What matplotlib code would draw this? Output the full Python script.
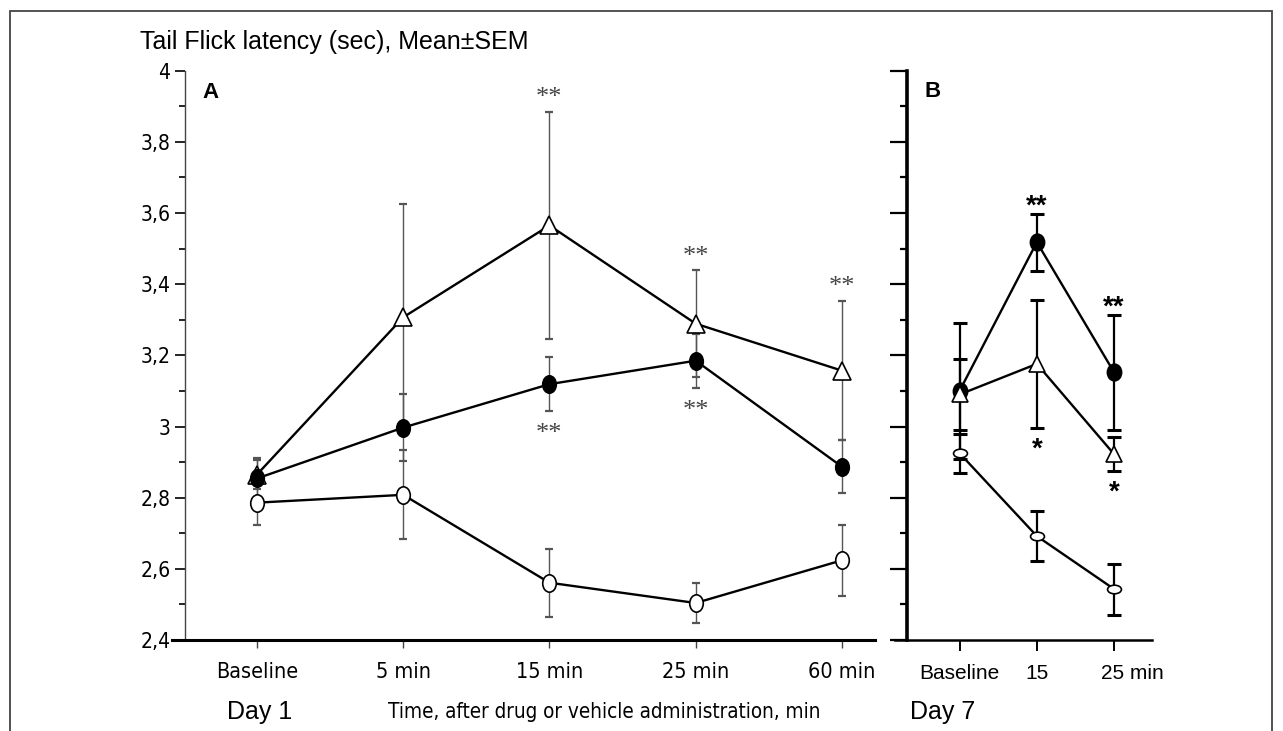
import matplotlib
matplotlib.use('Agg')
import matplotlib.pyplot as plt
import matplotlib.transforms as mtransforms
from matplotlib.path import Path
from matplotlib.patches import Rectangle
from matplotlib.ticker import MultipleLocator

# Panel A: day 1
times_a = ['Baseline', '5 min', '15 min', '25 min', '60 min']
tri_a = [2.865, 3.307, 3.565, 3.289, 3.157]
tri_a_sem = [0.04, 0.317, 0.32, 0.15, 0.195]
fill_a = [2.854, 2.997, 3.119, 3.185, 2.887]
fill_a_sem = [0.057, 0.095, 0.075, 0.076, 0.075]
open_a = [2.786, 2.808, 2.561, 2.504, 2.624]
open_a_sem = [0.064, 0.125, 0.095, 0.057, 0.1]

# Panel B: day 7
times_b = ['Baseline', '15', '25 min']
tri_b = [3.09, 3.176, 2.922]
tri_b_sem = [0.1, 0.18, 0.048]
fill_b = [3.10, 3.518, 3.152]
fill_b_sem = [0.19, 0.08, 0.162]
open_b = [2.925, 2.692, 2.543]
open_b_sem = [0.055, 0.07, 0.072]

# significance marks: (category index, series, above/below, text)
stars_a = [(2, 'tri', 'above', '**'), (3, 'tri', 'above', '**'), (4, 'tri', 'above', '**'),
           (2, 'fill', 'below', '**'), (3, 'fill', 'below', '**')]
stars_b = [(1, 'fill', 'above', '**'), (2, 'fill', 'above', '**'),
           (1, 'tri', 'below', '*'), (2, 'tri', 'below', '*')]

NARROW = dict(family='DejaVu Sans', stretch='condensed')
SANS = ['Liberation Sans', 'DejaVu Sans']


def ellipse(sx, sy):
    return Path.unit_circle().transformed(mtransforms.Affine2D().scale(sx, sy))


fig = plt.figure(figsize=(12.83, 7.31), dpi=100)
fig.add_artist(Rectangle((10 / 1283, -0.05), 1262 / 1283, 1 - 11 / 731 + 0.05,
                         transform=fig.transFigure, fill=False, ec='#444444', lw=1.3))

axA = fig.add_axes([185 / 1283, 1 - 640 / 731, 690 / 1283, 569.3 / 731])
axB = fig.add_axes([907 / 1283, 1 - 640 / 731, 245 / 1283, 569.3 / 731])


def draw_series(ax, x, y, sem, marker, ms, face, ecol, elw, cap, z):
    ax.errorbar(x, y, yerr=sem, fmt='none', ecolor=ecol, elinewidth=elw,
                capsize=cap, capthick=elw + 0.6, zorder=2)
    ax.plot(x, y, color='black', lw=1.7, marker=marker, ms=ms,
            mfc=face, mec='black', mew=1.2, zorder=z)


xa = list(range(len(times_a)))
draw_series(axA, xa, open_a, open_a_sem, ellipse(0.78, 1), 12.5, 'white', '#555555', 1.0, 3, 3)
draw_series(axA, xa, tri_a, tri_a_sem, '^', 12.5, 'white', '#555555', 1.0, 3, 3)
draw_series(axA, xa, fill_a, fill_a_sem, ellipse(0.78, 1), 12.5, 'black', '#555555', 1.0, 3, 4)

xb = list(range(len(times_b)))
draw_series(axB, xb, open_b, open_b_sem, ellipse(1, 0.62), 10, 'white', 'black', 1.6, 5, 3)
draw_series(axB, xb, fill_b, fill_b_sem, ellipse(0.85, 1), 12, 'black', 'black', 1.6, 5, 3)
draw_series(axB, xb, tri_b, tri_b_sem, '^', 11.5, 'white', 'black', 1.6, 5, 4)

series_a = {'tri': (tri_a, tri_a_sem), 'fill': (fill_a, fill_a_sem)}
for i, s, pos, txt in stars_a:
    m, e = series_a[s]
    if pos == 'above':
        axA.annotate(txt, (i, m[i] + e[i]), xytext=(0, 2), textcoords='offset points',
                     ha='center', va='bottom', fontsize=19, color='#444444',
                     family=['Liberation Serif', 'DejaVu Serif'])
    else:
        axA.annotate(txt, (i, m[i] - e[i]), xytext=(0, -9), textcoords='offset points',
                     ha='center', va='top', fontsize=19, color='#444444',
                     family=['Liberation Serif', 'DejaVu Serif'])

series_b = {'tri': (tri_b, tri_b_sem), 'fill': (fill_b, fill_b_sem)}
for i, s, pos, txt in stars_b:
    m, e = series_b[s]
    if pos == 'above':
        axB.annotate(txt, (i, m[i] + e[i]), xytext=(0, -4), textcoords='offset points',
                     ha='center', va='bottom', fontsize=20, fontweight='bold',
                     family=SANS)
    else:
        axB.annotate(txt, (i, m[i] - e[i]), xytext=(0, -6), textcoords='offset points',
                     ha='center', va='top', fontsize=20, fontweight='bold',
                     family=SANS)

for ax in (axA, axB):
    ax.set_ylim(2.4, 4.0)
    ax.yaxis.set_major_locator(MultipleLocator(0.2))
    ax.yaxis.set_minor_locator(MultipleLocator(0.1))
    ax.spines['top'].set_visible(False)
    ax.spines['right'].set_visible(False)

axA.set_xlim(-0.492, 4.226)
axA.set_xticks(xa)
axA.set_xticklabels(times_a, fontsize=15.5, **NARROW)
axA.tick_params(axis='x', direction='out', length=6, width=1.0, pad=10, color='#444444')
axA.yaxis.set_major_formatter(plt.FuncFormatter(lambda v, p: ('%g' % round(v, 1)).replace('.', ',')))
axA.tick_params(axis='y', which='major', length=7, width=1.2, labelsize=15)
axA.tick_params(axis='y', which='minor', length=4, width=1.2)
for lab in axA.get_yticklabels():
    lab.set_family('DejaVu Sans')
    lab.set_stretch('condensed')
axA.spines['left'].set_linewidth(1.0)
axA.spines['left'].set_color('#444444')
axA.spines['bottom'].set_linewidth(2.2)
axA.spines['bottom'].set_bounds(-0.58, 4.226)

axB.set_xlim(-0.68, 2.49)
axB.set_xticks(xb)
axB.set_xticklabels(times_b, fontsize=15, family=SANS)
axB.tick_params(axis='x', direction='out', length=8, width=1.4, pad=9)
lab25 = axB.get_xticklabels()[2]
lab25.set_horizontalalignment('left')
lab25.set_transform(lab25.get_transform() + mtransforms.ScaledTranslation(-13 / 100, 0, fig.dpi_scale_trans))
axB.tick_params(axis='y', which='major', length=12, width=1.6, labelleft=False)
axB.tick_params(axis='y', which='minor', length=5, width=1.6)
axB.spines['left'].set_linewidth(2.6)
axB.spines['bottom'].set_linewidth(1.8)
axB.spines['bottom'].set_bounds(-0.83, 2.49)

fig.text(140 / 1283, 1 - 42 / 731, 'Tail Flick latency (sec), Mean±SEM', fontsize=18,
         family=SANS, va='center', ha='left')
fig.text(202 / 1283, 1 - 92 / 731, 'A', fontsize=16, fontweight='bold', family=SANS, va='center')
fig.text(925 / 1283, 1 - 91.5 / 731, 'B', fontsize=16, fontweight='bold', family=SANS, va='center')
fig.text(260 / 1283, 1 - 712 / 731, 'Day 1', fontsize=18, family=SANS, va='center', ha='center')
fig.text(604 / 1283, 1 - 712 / 731, 'Time, after drug or vehicle administration, min', fontsize=14.9,
         va='center', ha='center', **NARROW)
fig.text(910 / 1283, 1 - 712 / 731, 'Day 7', fontsize=18, family=SANS, va='center', ha='left')

fig.savefig('out.png', dpi=100)
